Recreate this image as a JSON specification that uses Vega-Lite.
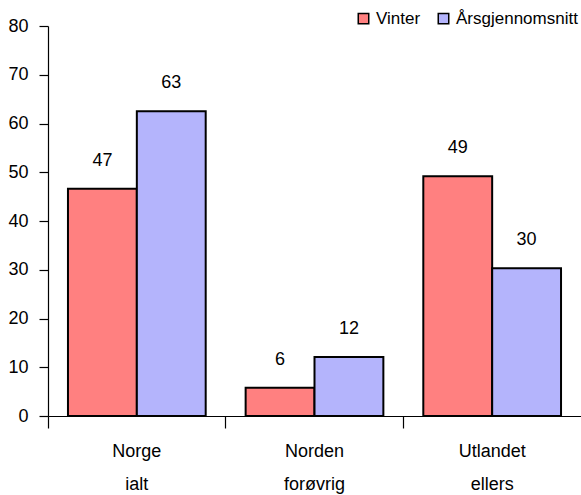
{
  "$schema": "https://vega.github.io/schema/vega-lite/v6.json",
  "autosize": {"type": "none"},
  "padding": {"left": 48, "top": 26, "right": 0, "bottom": 79},
  "width": 533,
  "height": 390,
  "background": "white",
  "config": {
    "view": {"stroke": null},
    "font": "Liberation Sans",
    "axis": {"domainColor": "black", "tickColor": "black", "labelColor": "black", "grid": false, "title": null, "labelFont": "Liberation Sans", "labelFontSize": 18, "domainWidth": 1.2, "tickWidth": 1.2}
  },
  "data": {
    "values": [
      {"kategori": "Norge|ialt", "serie": "Vinter", "verdi": 46.6},
      {"kategori": "Norge|ialt", "serie": "Årsgjennomsnitt", "verdi": 62.5},
      {"kategori": "Norden|forøvrig", "serie": "Vinter", "verdi": 5.8},
      {"kategori": "Norden|forøvrig", "serie": "Årsgjennomsnitt", "verdi": 12.1},
      {"kategori": "Utlandet|ellers", "serie": "Vinter", "verdi": 49.2},
      {"kategori": "Utlandet|ellers", "serie": "Årsgjennomsnitt", "verdi": 30.3}
    ]
  },
  "encoding": {
    "x": {
      "field": "kategori", "type": "nominal",
      "sort": ["Norge|ialt", "Norden|forøvrig", "Utlandet|ellers"],
      "scale": {"paddingInner": 0, "paddingOuter": 0},
      "axis": {"bandPosition": 0, "labelAngle": 0, "labelExpr": "split(datum.label, '|')", "labelLineHeight": 33, "labelPadding": 14, "tickSize": 12, "labelBaseline": "top"}
    },
    "xOffset": {
      "field": "serie", "type": "nominal",
      "sort": ["Vinter", "Årsgjennomsnitt"],
      "scale": {"paddingInner": 0, "paddingOuter": 0.29}
    },
    "y": {
      "field": "verdi", "type": "quantitative",
      "scale": {"domain": [0, 80], "nice": false},
      "axis": {"values": [0, 10, 20, 30, 40, 50, 60, 70, 80], "tickSize": 9, "labelPadding": 11}
    }
  },
  "layer": [
    {
      "mark": {"type": "bar", "stroke": "black", "strokeWidth": 2},
      "encoding": {
        "color": {
          "field": "serie", "type": "nominal",
          "sort": ["Vinter", "Årsgjennomsnitt"],
          "scale": {"domain": ["Vinter", "Årsgjennomsnitt"], "range": ["#FF8080", "#B4B4FC"]},
          "legend": {
            "orient": "none", "legendX": 307, "legendY": -16, "direction": "horizontal", "title": null,
            "symbolType": "square", "symbolSize": 110, "symbolStrokeColor": "black", "symbolStrokeWidth": 1.5,
            "symbolOpacity": 1, "labelFontSize": 17, "labelFont": "Liberation Sans", "labelColor": "black",
            "columnPadding": 14, "labelOffset": 4
          }
        }
      }
    },
    {
      "mark": {"type": "text", "baseline": "alphabetic", "dy": -23, "fontSize": 18, "font": "Liberation Sans", "color": "black"},
      "encoding": {
        "text": {"field": "verdi", "type": "quantitative", "format": ".0f"}
      }
    }
  ]
}
